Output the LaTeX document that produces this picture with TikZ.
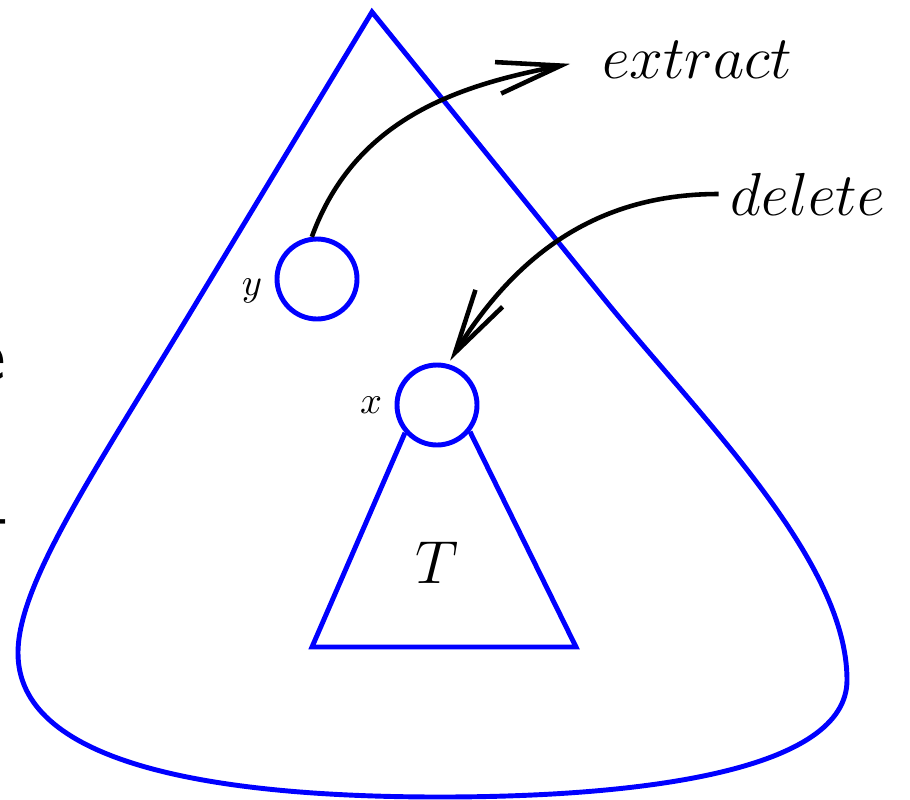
\documentclass[tikz,border=0pt]{standalone}
\usepackage{tikz}
\usetikzlibrary{arrows.meta,positioning}
\definecolor{treeblue}{RGB}{0,0,255}
\tikzset{
  outline/.style={draw=treeblue, line width=1.4pt},
  treenode/.style={circle, draw=treeblue, line width=1.4pt,
                   minimum size=8mm, inner sep=0pt},
  lab/.style={font=\fontsize{16.5}{20}\selectfont},
  smalllab/.style={font=\fontsize{11}{13}\selectfont},
  flow/.style={-{Straight Barb[length=6.4mm,width=3.2mm]}, line width=1.3pt},
  cutoff/.style={font=\sffamily\fontsize{22}{26}\selectfont, inner sep=0pt},
}

\begin{document}
\begin{tikzpicture}[x=1cm,y=1cm]
  \path[use as bounding box] (0,0) rectangle (9.10,7.99);

  % text cut off at the left margin
  \node[cutoff, anchor=base east] (frage) at (0.07,4.19) {e};
  \node[cutoff, anchor=base east] (fragdash) at (0.10,2.61) {-};

  % the whole tree
  \coordinate (apex) at (3.72,7.87);
  \draw[outline] (apex) -- (1.98,4.99)
    .. controls (0.95,3.28) and (0.18,2.16) .. (0.18,1.46)
    .. controls (0.18,0.39) and (2.00,0.02) .. (4.40,0.02)
    .. controls (6.45,0.02) and (8.47,0.29) .. (8.47,1.19)
    .. controls (8.47,2.39) and (7.00,3.82) .. (6.05,4.99)
    -- cycle;

  \node[treenode, label={[smalllab, yshift=-1.2mm]left:$y$}] (y) at (3.17,5.20) {};
  \node[treenode, label={[smalllab]left:$x$}] (x) at (4.37,3.94) {};

  % subtree below x
  \coordinate (Tl) at (3.12,1.52);
  \coordinate (Tr) at (5.76,1.52);
  \draw[outline] (x.221) -- (Tl) -- (Tr) -- (x.321);
  \node[lab] (T) at (4.37,2.36) {$T$};

  \node[lab] (extract) at (6.97,7.39) {$extract$};
  \node[lab] (delete) at (8.08,6.05) {$delete$};

  \draw[flow, shorten >=0.2cm] (y.97) to[out=70, in=191] (extract.west);
  \draw[flow, shorten >=0.04cm] (delete.west) to[out=180, in=58] (x.75);
\end{tikzpicture}
\end{document}
